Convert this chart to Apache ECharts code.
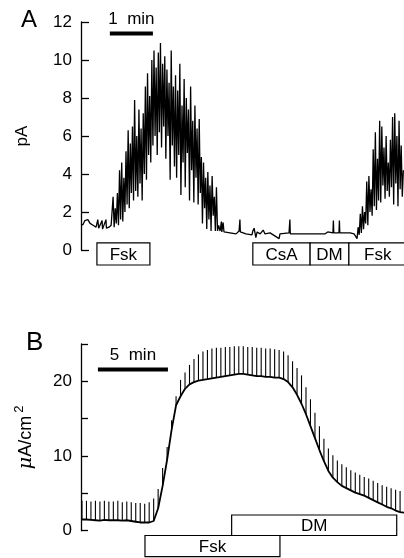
<!DOCTYPE html>
<html>
<head>
<meta charset="utf-8">
<script src="https://cdn.jsdelivr.net/npm/echarts@6/dist/echarts.min.js"></script>
<style>
html, body { margin: 0; padding: 0; background: #fff; }
#chart { width: 404px; height: 558px; }
</style>
</head>
<body>
<div id="chart"></div>
<script>
// ---------- panel A: current (pA) vs time (min) ----------
let aPreBase = [[0, 1.3], [0.05, 1.35], [0.09, 1.55], [0.13, 1.45], [0.16, 1.6], [0.21, 1.4], [0.28, 1.3], [0.35, 1.2],
    [0.39, 1.6], [0.41, 1.15], [0.49, 1.55], [0.5, 1.1], [0.58, 1.6], [0.59, 1.15], [0.65, 1.2], [0.7, 1.3]]
let aBurst1Start = 0.72
let aBurst2Start = 6.41
let aStep = 0.025
let aBurst1 = [1.3, 2.8, 1.2, 2.2, 1.4, 3.0, 1.3, 4.2, 1.6, 4.6,
    1.5, 3.8, 2.0, 5.2, 2.4, 6.3, 2.2, 5.6, 3.0, 6.5,
    2.6, 7.9, 3.1, 6.0, 2.8, 7.4, 3.5, 6.4, 2.6, 7.2,
    4.0, 8.6, 3.7, 9.3, 5.0, 8.1, 4.6, 10.0, 5.5, 10.5,
    6.0, 9.6, 5.0, 10.4, 6.2, 10.9, 5.4, 9.8, 6.5, 10.2,
    4.8, 9.5, 6.0, 8.8, 3.7, 10.5, 5.5, 8.6, 4.4, 9.2,
    3.8, 8.4, 5.0, 9.8, 2.9, 7.6, 4.6, 9.0, 3.3, 8.0,
    5.1, 7.4, 2.6, 8.6, 4.2, 6.8, 2.5, 7.6, 3.8, 6.4,
    2.4, 6.9, 3.0, 4.9, 1.4, 4.6, 2.2, 3.8, 1.1, 4.1,
    1.6, 3.4, 1.0, 3.9, 1.8, 2.8, 1.0, 3.3, 1.0, 1.3]
let aMidBase = [[3.23, 1.0], [3.26, 1.5], [3.27, 0.95], [3.3, 1.45], [3.32, 0.95], [3.46, 0.9], [3.6, 0.85], [3.67, 1.0],
    [3.69, 1.6], [3.7, 0.95], [3.83, 0.85], [3.97, 0.8], [3.99, 1.0], [4.02, 1.15], [4.04, 0.9], [4.06, 0.65],
    [4.09, 0.95], [4.16, 0.85], [4.23, 1.05], [4.27, 0.85], [4.39, 0.9], [4.6, 0.6], [4.62, 0.85], [4.83, 0.9],
    [4.85, 1.6], [4.86, 0.85], [5.08, 0.85], [5.43, 0.85], [5.67, 0.85], [5.73, 0.95], [5.85, 0.9], [5.86, 1.55],
    [5.87, 0.9], [5.99, 0.9], [6.0, 1.55], [6.01, 0.9], [6.25, 0.9], [6.34, 0.85]]
let aBurst2 = [0.6, 1.2, 0.8, 1.9, 0.9, 2.3, 1.1, 2.0, 1.4, 3.6,
    1.3, 3.9, 2.0, 3.2, 1.8, 5.3, 2.3, 6.2, 2.1, 4.8,
    2.6, 6.8, 2.5, 6.5, 3.4, 5.4, 2.7, 6.0, 3.1, 4.6,
    2.8, 5.8, 3.3, 7.0, 2.4, 7.2, 3.5, 6.0, 2.3, 6.8,
    3.2, 5.5, 2.8, 4.2]
// drug bars under panel A: [label, start min, end min]
let aBoxes = [['Fsk', 0.37, 1.6], ['CsA', 3.99, 5.32], ['DM', 5.32, 6.22], ['Fsk', 6.22, 7.56]]
let aBoxY = [0.37, -0.79]
let aScale = [0.67, 1.67, 11.4]

// ---------- panel B: short-circuit current (uA/cm2) vs time (min) ----------
let bStart = 0.07
let bStep = 0.32
let bBase = [1.5, 1.5, 1.45, 1.4, 1.35, 1.45, 1.4, 1.4, 1.4, 1.35,
    1.4, 1.3, 1.2, 1.1, 1.1, 1.1, 1.3, 3.0, 6.0, 9.5,
    13.5, 16.8, 18.0, 19.0, 19.6, 19.9, 20.1, 20.2, 20.3, 20.4,
    20.5, 20.6, 20.7, 20.8, 20.9, 21.0, 21.0, 20.9, 20.8, 20.7,
    20.7, 20.6, 20.6, 20.5, 20.5, 20.3, 19.9, 19.2, 18.2, 17.0,
    15.6, 14.0, 12.4, 10.8, 9.3, 8.0, 7.1, 6.5, 6.0, 5.7,
    5.4, 5.1, 4.9, 4.7, 4.4, 4.1, 3.8, 3.5, 3.2, 3.0,
    2.7, 2.5]
let bTop = [4.0, 4.0, 3.9, 4.0, 3.9, 4.0, 3.9, 3.9, 4.0, 3.8,
    3.9, 3.8, 3.7, 3.7, 3.6, 3.8, 4.3, 5.6, 8.4, 11.2,
    14.8, 18.0, 20.2, 21.2, 22.2, 23.0, 23.6, 24.0, 24.2, 24.4,
    24.5, 24.5, 24.6, 24.6, 24.7, 24.7, 24.7, 24.6, 24.6, 24.5,
    24.5, 24.4, 24.4, 24.3, 24.2, 24.0, 23.5, 22.7, 21.8, 20.8,
    19.2, 17.6, 15.8, 14.0, 12.3, 11.0, 10.1, 9.4, 8.9, 8.5,
    8.1, 7.8, 7.5, 7.2, 7.0, 6.7, 6.4, 6.1, 5.9, 5.7,
    5.5, 5.3]
let bEnds = [[0, 1.5], [23.1, 2.4]]
// [label, start, end, top, bottom]
let bBoxes = [['DM', 10.76, 22.55, 2.1, -0.64], ['Fsk', 4.57, 14.21, -0.64, -3.48]]
let bScale = [1.21, 6.21, 21.6]

let font = 'Liberation Sans'

// build line data
let aData = aPreBase.slice()
aBurst1.forEach((v, i) => aData.push([aBurst1Start + i * aStep, v]))
aMidBase.forEach(p => aData.push(p))
aBurst2.forEach((v, i) => aData.push([aBurst2Start + i * aStep, v]))

let bTimes = bBase.map((v, i) => bStart + i * bStep)
let bLine = [bEnds[0]].concat(bBase.map((v, i) => [bTimes[i], v]), [bEnds[1]])
let bSpikes = bBase.map((v, i) => [bTimes[i], v, bTop[i]])

let myChart = echarts.init(document.getElementById('chart'))

function boxRender(list, fixedY) {
    return function (params, api) {
        let b = list[params.dataIndex]
        let yTop = fixedY ? fixedY[0] : b[3]
        let yBot = fixedY ? fixedY[1] : b[4]
        let p0 = api.coord([b[1], yTop])
        let p1 = api.coord([b[2], yBot])
        return {
            type: 'group',
            children: [
                { type: 'rect', shape: { x: p0[0], y: p0[1], width: p1[0] - p0[0], height: p1[1] - p0[1] },
                  style: { fill: '#fff', stroke: '#000', lineWidth: 1.2 } },
                { type: 'text', x: (p0[0] + p1[0]) / 2, y: (p0[1] + p1[1]) / 2 + 1,
                  style: { text: b[0], fontSize: 17, fontFamily: font, fill: '#000', align: 'center', verticalAlign: 'middle' } }
            ]
        }
    }
}

function scaleRender(s, label) {
    return function (params, api) {
        let p0 = api.coord([s[0], s[2]])
        let p1 = api.coord([s[1], s[2]])
        return {
            type: 'group',
            children: [
                { type: 'line', shape: { x1: p0[0], y1: p0[1], x2: p1[0], y2: p1[1] }, style: { stroke: '#000', lineWidth: 4 } },
                { type: 'text', x: (p0[0] + p1[0]) / 2, y: p0[1] - 6,
                  style: { text: label, fontSize: 17, fontFamily: font, fill: '#000', align: 'center', verticalAlign: 'bottom' } }
            ]
        }
    }
}

let axisCommon = {
    type: 'value',
    axisLine: { show: true, lineStyle: { color: '#000', width: 1.3 } },
    axisTick: { show: true, inside: true, length: 8, lineStyle: { color: '#000', width: 1.3 } },
    axisLabel: { fontSize: 17, color: '#000', fontFamily: font, margin: 9 },
    splitLine: { show: false },
    nameLocation: 'middle'
}

let option = {
    animation: false,
    backgroundColor: '#fff',
    grid: [
        { left: 81, top: 22, width: 323, height: 228 },
        { left: 81, top: 344, width: 323, height: 186.7 }
    ],
    xAxis: [
        { gridIndex: 0, type: 'value', min: 0, max: 7.5, show: false },
        { gridIndex: 1, type: 'value', min: 0, max: 23.07, show: false }
    ],
    yAxis: [
        Object.assign({}, axisCommon, {
            gridIndex: 0, min: 0, max: 12, interval: 2,
            name: 'pA', nameGap: 50,
            nameTextStyle: { fontSize: 17, color: '#000', fontFamily: font }
        }),
        Object.assign({}, axisCommon, {
            gridIndex: 1, min: 0, max: 25, interval: 5,
            axisTick: { show: true, inside: true, length: 7, lineStyle: { color: '#000', width: 1.3 } },
            axisLabel: { fontSize: 17, color: '#000', fontFamily: font, margin: 9,
                formatter: v => (v % 10 === 0 ? v : '') },
            name: '{mu|μ}A/cm{sup|2}', nameGap: 42,
            nameTextStyle: {
                fontSize: 18, color: '#000', fontFamily: font,
                rich: {
                    mu: { fontSize: 19, fontStyle: 'italic', fontFamily: 'DejaVu Serif', color: '#000' },
                    sup: { fontSize: 13, verticalAlign: 'bottom', padding: [0, 0, 13, 3], color: '#000', fontFamily: font }
                }
            }
        })
    ],
    graphic: [
        { type: 'text', left: 21, top: 8, style: { text: 'A', fontSize: 24, fontFamily: font, fill: '#000' } },
        { type: 'text', left: 26, top: 330, style: { text: 'B', fontSize: 26, fontFamily: font, fill: '#000' } }
    ],
    series: [
        {
            type: 'line', xAxisIndex: 0, yAxisIndex: 0, data: aData,
            showSymbol: false, symbol: 'none',
            lineStyle: { color: '#000', width: 1.3 }
        },
        {
            type: 'custom', xAxisIndex: 0, yAxisIndex: 0, data: aBoxes.map(b => [b[1], b[2]]),
            renderItem: boxRender(aBoxes, aBoxY)
        },
        {
            type: 'custom', xAxisIndex: 0, yAxisIndex: 0, data: [aScale],
            renderItem: scaleRender(aScale, '1  min')
        },
        {
            type: 'custom', xAxisIndex: 1, yAxisIndex: 1, data: bSpikes,
            renderItem: function (params, api) {
                let p0 = api.coord([api.value(0), api.value(1)])
                let p1 = api.coord([api.value(0), api.value(2)])
                return { type: 'line', shape: { x1: p0[0], y1: p0[1], x2: p1[0], y2: p1[1] },
                    style: { stroke: '#000', lineWidth: 1.1 } }
            }
        },
        {
            type: 'line', xAxisIndex: 1, yAxisIndex: 1, data: bLine,
            showSymbol: false, symbol: 'none',
            lineStyle: { color: '#000', width: 1.8 }
        },
        {
            type: 'custom', xAxisIndex: 1, yAxisIndex: 1, data: bBoxes.map(b => [b[1], b[2]]),
            renderItem: boxRender(bBoxes, null)
        },
        {
            type: 'custom', xAxisIndex: 1, yAxisIndex: 1, data: [bScale],
            renderItem: scaleRender(bScale, '5  min')
        }
    ]
}

myChart.setOption(option)
window.addEventListener('resize', function () {
    myChart.resize()
})
</script>
</body>
</html>
